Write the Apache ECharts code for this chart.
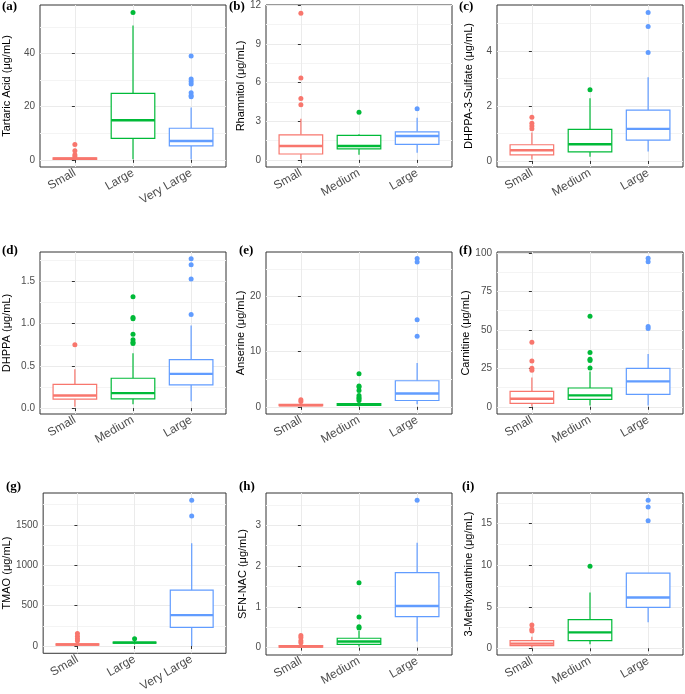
<!DOCTYPE html>
<html>
<head>
<meta charset="utf-8">
<script src="https://cdn.jsdelivr.net/npm/echarts@6/dist/echarts.min.js"></script>
<style>
html,body{margin:0;padding:0;background:#fff;}
#chart{width:685px;height:694px;}
</style>
</head>
<body>
<div id="chart"></div>
<script>
// ---------- data ----------
const catsSLV = ['Small', 'Large', 'Very Large'];
const catsSML = ['Small', 'Medium', 'Large'];

// box stats: [lower whisker, Q1, median, Q3, upper whisker]
const tartaricBox = [[0, 0.15, 0.45, 0.75, 1.2], [0.25, 8.1, 14.9, 25, 50.6], [0.25, 5.25, 7.1, 11.9, 19.75]];
const tartaricOut = [[5.75, 3.4, 1.9, 1.25], [55.5], [39.1, 30.4, 29.5, 28.6, 25.25, 24.25, 23.75]];

const rhamnitolBox = [[0.05, 0.46, 1.08, 1.95, 3.2], [0.41, 0.85, 1.08, 1.9, 2.0], [0.56, 1.2, 1.85, 2.18, 3.28]];
const rhamnitolOut = [[11.38, 6.36, 4.77, 4.28], [3.69], [3.97]];

const dhppaSulfBox = [[0.05, 0.22, 0.39, 0.59, 1.04], [0.15, 0.33, 0.61, 1.15, 2.28], [0.34, 0.76, 1.17, 1.85, 3.05]];
const dhppaSulfOut = [[1.59, 1.37, 1.27, 1.17], [2.59], [5.41, 4.9, 3.95]];

const dhppaBox = [[0.016, 0.106, 0.15, 0.28, 0.46], [0.047, 0.11, 0.177, 0.354, 0.65], [0.08, 0.276, 0.405, 0.575, 0.98]];
const dhppaOut = [[0.75], [1.32, 1.075, 1.06, 0.874, 0.81, 0.78, 0.765], [1.77, 1.70, 1.53, 1.11]];

const anserineBox = [[0.05, 0.2, 0.3, 0.45, 0.65], [0.05, 0.25, 0.4, 0.6, 1.0], [0.48, 1.15, 2.42, 4.73, 7.94]];
const anserineOut = [[1.27, 0.97], [6.0, 3.8, 3.58, 2.97, 2.06, 1.7, 1.45, 1.15], [26.9, 26.3, 15.8, 12.8]];

const carnitineBox = [[0.2, 2.2, 5.2, 10.0, 19.1], [0.9, 4.8, 7.4, 12.2, 23], [0.9, 8.0, 16.5, 25, 34.3]];
const carnitineOut = [[42, 29.8, 25, 23.7], [58.9, 35.2, 30.9, 30, 25.2], [96.5, 94.3, 52.2, 50.9]];

const tmaoBox = [[2, 10, 18, 28, 50], [20, 35, 42, 50, 65], [0, 232, 382, 691, 1272]];
const tmaoOut = [[154, 122, 89, 65], [89], [1805, 1610]];

const sfnBox = [[0, 0.01, 0.03, 0.05, 0.08], [0.03, 0.08, 0.15, 0.23, 0.41], [0.15, 0.76, 1.02, 1.84, 2.57]];
const sfnOut = [[0.3, 0.25, 0.17, 0.12], [1.59, 0.75, 0.51, 0.48], [3.61]];

const methylxBox = [[0.08, 0.32, 0.56, 0.92, 1.4], [0.48, 0.92, 1.92, 3.44, 6.72], [3.12, 4.92, 6.12, 9.04, 9.04]];
const methylxOut = [[2.8, 2.3, 2.08], [9.88], [17.84, 17.0, 15.36]];

// tick labels (major) and minor grid positions
const ticksA = [0, 20, 40], minorA = [10, 30, 50];
const ticksB = [0, 3, 6, 9, 12], minorB = [1.5, 4.5, 7.5, 10.5];
const ticksC = [0, 2, 4], minorC = [1, 3, 5];
const ticksD = [0, 0.5, 1, 1.5], minorD = [0.25, 0.75, 1.25, 1.75];
const ticksE = [0, 10, 20], minorE = [5, 15, 25];
const ticksF = [0, 25, 50, 75, 100], minorF = [12.5, 37.5, 62.5, 87.5];
const ticksG = [0, 500, 1000, 1500], minorG = [250, 750, 1250, 1750];
const ticksH = [0, 1, 2, 3], minorH = [0.5, 1.5, 2.5, 3.5];
const ticksI = [0, 5, 10, 15], minorI = [2.5, 7.5, 12.5, 17.5];

const COLORS = ['#F8766D', '#00BA38', '#619CFF'];

// ---------- panels ----------
const panels = [
  {tag: '(a)', name: 'Tartaric Acid (\u03bcg/mL)', cats: catsSLV, box: tartaricBox, out: tartaricOut, ticks: ticksA, minor: minorA, range: [-2.7, 58.3], dec: 0},
  {tag: '(b)', name: 'Rhamnitol (\u03bcg/mL)', cats: catsSML, box: rhamnitolBox, out: rhamnitolOut, ticks: ticksB, minor: minorB, range: [-0.55, 12.02], dec: 0},
  {tag: '(c)', name: 'DHPPA-3-Sulfate (\u03bcg/mL)', cats: catsSML, box: dhppaSulfBox, out: dhppaSulfOut, ticks: ticksC, minor: minorC, range: [-0.22, 5.68], dec: 0},
  {tag: '(d)', name: 'DHPPA (\u03bcg/mL)', cats: catsSML, box: dhppaBox, out: dhppaOut, ticks: ticksD, minor: minorD, range: [-0.07, 1.85], dec: 1},
  {tag: '(e)', name: 'Anserine (\u03bcg/mL)', cats: catsSML, box: anserineBox, out: anserineOut, ticks: ticksE, minor: minorE, range: [-1.3, 28.1], dec: 0},
  {tag: '(f)', name: 'Carnitine (\u03bcg/mL)', cats: catsSML, box: carnitineBox, out: carnitineOut, ticks: ticksF, minor: minorF, range: [-4.7, 100.6], dec: 0},
  {tag: '(g)', name: 'TMAO (\u03bcg/mL)', cats: catsSLV, box: tmaoBox, out: tmaoOut, ticks: ticksG, minor: minorG, range: [-90, 1895], dec: 0},
  {tag: '(h)', name: 'SFN-NAC (\u03bcg/mL)', cats: catsSML, box: sfnBox, out: sfnOut, ticks: ticksH, minor: minorH, range: [-0.18, 3.79], dec: 0},
  {tag: '(i)', name: '3-Methylxanthine (\u03bcg/mL)', cats: catsSML, box: methylxBox, out: methylxOut, ticks: ticksI, minor: minorI, range: [-0.81, 18.7], dec: 0}
];

// layout
const colLeft = [40, 266, 497];
const colWidth = 186;
const rowTop = [5, 252, 493];
const rowHeight = 162;
const nameGaps = [28, 18, 23];
const tagPos = [[2, 0], [229, 0], [459, 0], [2, 244], [239, 244], [459, 244], [6, 480], [239, 480], [462, 480]];

const FONT = 'Liberation Sans, Arial, Helvetica, sans-serif';
const grids = [], xAxes = [], yAxes = [], series = [], titles = [];

function renderBox(params, api) {
  const x = api.value(0);
  const mn = api.value(1), q1 = api.value(2), md = api.value(3), q3 = api.value(4), mx = api.value(5);
  const hw = api.size([0.75, 0])[0] / 2;
  const pMin = api.coord([x, mn]);
  const pQ1 = api.coord([x, q1]);
  const pMd = api.coord([x, md]);
  const pQ3 = api.coord([x, q3]);
  const pMx = api.coord([x, mx]);
  const cx = pMd[0];
  const color = COLORS[x];
  const lw = 1.2;
  return {
    type: 'group',
    children: [
      {type: 'line', shape: {x1: cx, y1: pMx[1], x2: cx, y2: pQ3[1]}, style: {stroke: color, lineWidth: lw}},
      {type: 'line', shape: {x1: cx, y1: pQ1[1], x2: cx, y2: pMin[1]}, style: {stroke: color, lineWidth: lw}},
      {type: 'rect', shape: {x: cx - hw, y: pQ3[1], width: 2 * hw, height: pQ1[1] - pQ3[1]}, style: {fill: '#ffffff', stroke: color, lineWidth: lw}},
      {type: 'line', shape: {x1: cx - hw, y1: pMd[1], x2: cx + hw, y2: pMd[1]}, style: {stroke: color, lineWidth: 2.4}}
    ]
  };
}

panels.forEach((p, k) => {
  const col = k % 3, row = Math.floor(k / 3);
  grids.push({left: colLeft[col], top: rowTop[row], width: colWidth, height: rowHeight,
    show: true, borderColor: '#333333', borderWidth: 1, backgroundColor: 'transparent', containLabel: false});
  const catIdx = p.cats.map((c, i) => i);
  xAxes.push({
    type: 'value', gridIndex: k, min: -0.6, max: 2.6,
    axisLine: {show: false},
    axisTick: {show: true, length: 3, lineStyle: {color: '#333333', width: 1}, customValues: catIdx},
    axisLabel: {show: true, customValues: catIdx, rotate: 30, margin: 5, fontSize: 12, color: '#4D4D4D', fontFamily: FONT,
      formatter: v => p.cats[Math.round(v)] || ''},
    splitLine: {show: true, lineStyle: {color: '#EBEBEB', width: 1}}
  });
  yAxes.push({
    type: 'value', gridIndex: k, min: p.range[0], max: p.range[1],
    name: p.name, nameLocation: 'middle', nameRotate: 90, nameGap: nameGaps[col],
    nameTextStyle: {fontSize: 11, color: '#000000', fontFamily: FONT},
    axisLine: {show: false},
    axisTick: {show: true, length: 3, lineStyle: {color: '#333333', width: 1}, customValues: p.ticks},
    axisLabel: {show: true, customValues: p.ticks, margin: 5, fontSize: 10, color: '#4D4D4D', fontFamily: FONT,
      formatter: v => p.dec ? v.toFixed(p.dec) : String(v)},
    splitLine: {show: true, lineStyle: {color: '#EBEBEB', width: 1}}
  });
  yAxes.push({
    type: 'value', gridIndex: k, min: p.range[0], max: p.range[1], position: 'left',
    axisLine: {show: false},
    axisTick: {show: false, customValues: p.minor},
    axisLabel: {show: false, customValues: p.minor},
    splitLine: {show: true, lineStyle: {color: '#F4F4F4', width: 1}}
  });
  const yMain = yAxes.length - 2;
  series.push({
    type: 'custom', xAxisIndex: k, yAxisIndex: yMain,
    renderItem: renderBox,
    encode: {x: 0, y: [1, 2, 3, 4, 5]},
    data: p.box.map((b, i) => [i].concat(b)),
    z: 2, silent: true
  });
  const pts = [];
  p.out.forEach((arr, i) => arr.forEach(v => pts.push([i, v])));
  series.push({
    type: 'scatter', xAxisIndex: k, yAxisIndex: yMain,
    symbol: 'circle', symbolSize: 5,
    itemStyle: {color: params => COLORS[params.value[0]], opacity: 1},
    data: pts, z: 3, silent: true
  });
  titles.push({
    text: p.tag, left: tagPos[k][0], top: tagPos[k][1], padding: 0,
    textStyle: {fontFamily: 'Liberation Serif, Times New Roman, serif', fontWeight: 'bold', fontSize: 13, color: '#000000'}
  });
});

const chart = echarts.init(document.getElementById('chart'), null, {renderer: 'canvas'});
chart.setOption({
  animation: false,
  backgroundColor: '#ffffff',
  title: titles,
  grid: grids,
  xAxis: xAxes,
  yAxis: yAxes,
  series: series
});
</script>
</body>
</html>
